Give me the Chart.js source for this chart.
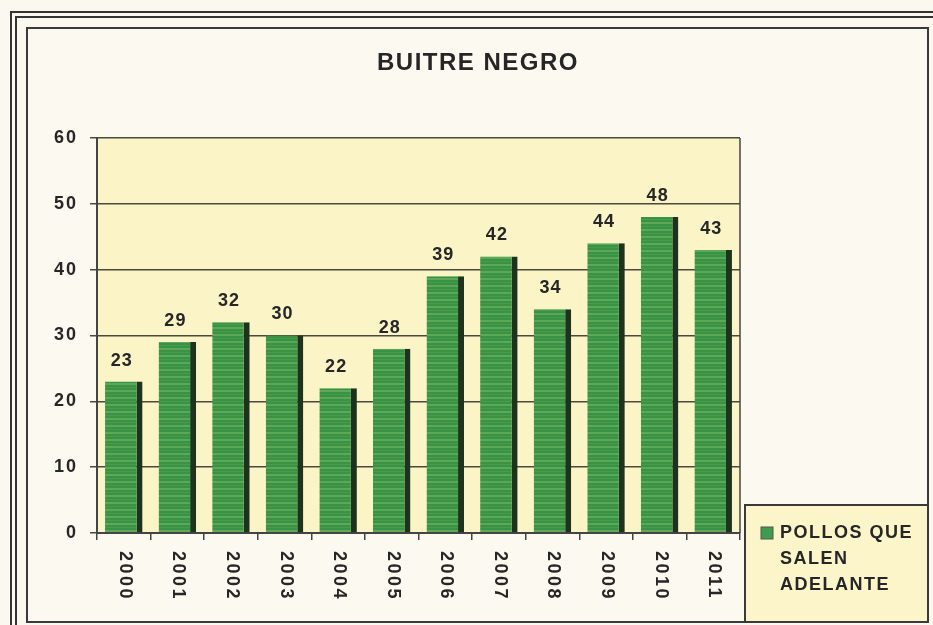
<!DOCTYPE html>
<html lang="es">
<head>
  <meta charset="UTF-8" />
  <title>Buitre negro</title>
  <script src="https://cdn.jsdelivr.net/npm/chart.js"></script>
  <style>
    html,body{margin:0;padding:0;background:#fbf9ef;}
    #wrap{width:933px;height:625px;}
  </style>
</head>
<body>
  <div id="wrap"><canvas id="chart" width="933" height="625"></canvas></div>

  <script>
    const years=['2000','2001','2002','2003','2004','2005','2006','2007','2008','2009','2010','2011'];
    const pollos=[23,29,32,30,22,28,39,42,34,44,48,43];
    const yTicks=[0,10,20,30,40,50,60];
    const titleText='BUITRE NEGRO';
    const legendLines=['POLLOS QUE','SALEN','ADELANTE'];

    const FONT='"Liberation Sans", Arial, sans-serif';

    // striped green fill like the scanned bars
    function barPattern(){
      const c=document.createElement('canvas');
      c.width=8;c.height=7;
      const g=c.getContext('2d');
      g.fillStyle='#3a9247';g.fillRect(0,0,8,7);
      g.fillStyle='#5ca854';g.fillRect(0,5,8,2);
      g.fillStyle='#459c4c';g.fillRect(0,2,8,1);
      return g.createPattern(c,'repeat');
    }

    const decor={
      id:'decor',
      beforeDraw(chart){
        const {ctx,chartArea:a}=chart;
        ctx.save();
        // outer double frame
        ctx.strokeStyle='#333';ctx.lineWidth=2;
        ctx.strokeRect(11,12,930,620);
        ctx.strokeRect(16,17,925,615);
        // inner panel
        ctx.fillStyle='#fcfaf0';
        ctx.fillRect(27,28,901,594);
        ctx.lineWidth=2;ctx.strokeStyle='#3a3a3a';
        ctx.strokeRect(27,28,901,594);
        // plot area
        ctx.fillStyle='#fbf4c6';
        ctx.fillRect(a.left,a.top,a.right-a.left,a.bottom-a.top);
        ctx.restore();
        ctx.letterSpacing='2px';
      },
      afterDraw(chart){
        const {ctx,chartArea:a}=chart;
        const xs=chart.scales.x, ys=chart.scales.y;
        ctx.save();
        // plot right border
        ctx.strokeStyle='#444';ctx.lineWidth=1.5;
        ctx.beginPath();ctx.moveTo(a.right,a.top);ctx.lineTo(a.right,a.bottom);ctx.stroke();
        // title
        ctx.fillStyle='#262626';
        ctx.font='bold 24px '+FONT;
        ctx.letterSpacing='1.5px';
        ctx.textAlign='center';ctx.textBaseline='middle';
        ctx.fillText(titleText,478,63);
        // value labels
        ctx.font='bold 18px '+FONT;
        ctx.letterSpacing='1px';
        chart.getDatasetMeta(0).data.forEach((bar,i)=>{
          ctx.fillText(String(pollos[i]),xs.getPixelForValue(i)-2,ys.getPixelForValue(pollos[i])-21);
        });
        // x labels, rotated clockwise
        ctx.font='bold 18px '+FONT;
        ctx.letterSpacing='2.5px';
        ctx.textAlign='left';
        years.forEach((y,i)=>{
          ctx.save();
          ctx.translate(xs.getPixelForValue(i)+1,a.bottom+18);
          ctx.rotate(Math.PI/2);
          ctx.fillText(y,0,0);
          ctx.restore();
        });
        // legend box
        ctx.fillStyle='#fbf5c9';
        ctx.fillRect(745,505,183,117);
        ctx.strokeStyle='#3a3a3a';ctx.lineWidth=2;
        ctx.strokeRect(745,505,183,117);
        ctx.fillStyle='#3f9b4e';
        ctx.fillRect(761,527,12,12);
        ctx.strokeStyle='#555';ctx.lineWidth=1;
        ctx.strokeRect(761,527,12,12);
        ctx.fillStyle='#262626';
        ctx.font='bold 18px '+FONT;
        ctx.letterSpacing='1.5px';
        ctx.textBaseline='middle';
        legendLines.forEach((t,i)=>ctx.fillText(t,780,533+i*26));
        ctx.restore();
        ctx.letterSpacing='0px';
      }
    };

    new Chart(document.getElementById('chart'),{
      type:'bar',
      data:{labels:years,datasets:[{
        label:legendLines.join(' '),
        data:pollos,
        backgroundColor:barPattern(),
        borderColor:'#1e321e',
        borderWidth:{top:0,left:0,bottom:0,right:6},
        borderSkipped:false,
        barPercentage:0.7,
        categoryPercentage:1
      }]},
      options:{
        responsive:false,
        animation:false,
        layout:{padding:{left:27,right:193,top:138,bottom:0}},
        plugins:{legend:{display:false},title:{display:false},tooltip:{enabled:false}},
        scales:{
          x:{
            offset:true,
            grid:{offset:true,drawOnChartArea:false,color:'#444',lineWidth:1.5,tickLength:7},
            border:{color:'#444',width:2},
            ticks:{display:false},
            afterFit(s){s.height=92;}
          },
          y:{
            min:0,max:60,
            afterBuildTicks(s){s.ticks=yTicks.map(v=>({value:v}));},
            grid:{color:'#4a4a3a',lineWidth:1.5,tickLength:7},
            border:{color:'#444',width:2},
            ticks:{color:'#262626',font:{family:FONT,size:18,weight:'bold'},padding:12},
            afterFit(s){s.width=70;}
          }
        }
      },
      plugins:[decor]
    });
  </script>
</body>
</html>
